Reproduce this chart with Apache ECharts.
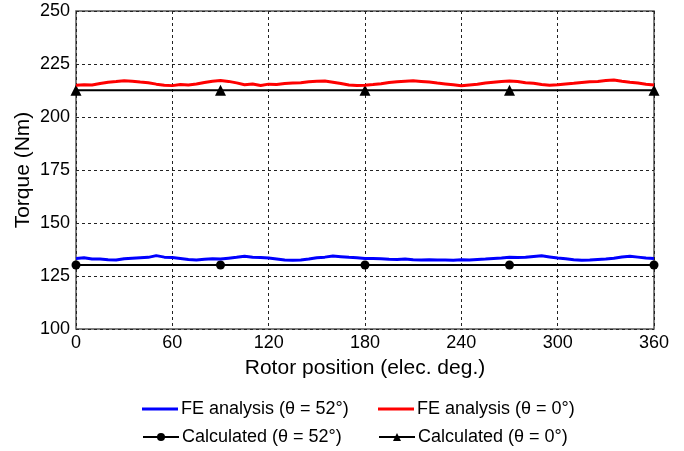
<!DOCTYPE html>
<html>
<head>
<meta charset="utf-8">
<script src="https://cdn.jsdelivr.net/npm/echarts@6/dist/echarts.min.js"></script>
<style>html,body{margin:0;padding:0;background:#fff}#c{width:684px;height:451px}</style>
</head>
<body>
<div id="c"></div>
<script>
var positions = [0,5,10,15,20,25,30,35,40,45,50,55,60,65,70,75,80,85,90,95,100,105,110,115,120,125,130,135,140,145,150,155,160,165,170,175,180,185,190,195,200,205,210,215,220,225,230,235,240,245,250,255,260,265,270,275,280,285,290,295,300,305,310,315,320,325,330,335,340,345,350,355,360];
var feTheta0 = [215.0,215.2,215.1,215.8,216.4,216.7,217.1,216.9,216.5,216.2,215.5,215.0,214.8,215.3,215.1,215.6,216.3,216.9,217.2,216.8,216.1,215.2,215.6,214.9,215.5,215.3,215.8,216.0,216.2,216.6,216.9,217.0,216.4,215.8,215.1,214.9,215.0,215.3,215.7,216.3,216.6,216.9,217.1,216.8,216.5,216.0,215.6,215.2,214.7,215.1,215.4,216.0,216.4,216.8,217.0,216.7,216.2,215.9,215.3,215.0,215.2,215.6,215.9,216.3,216.6,216.8,217.2,217.5,216.9,216.4,216.0,215.5,215.1];
var feTheta52 = [133.2,133.6,133.0,133.0,132.7,132.5,133.1,133.4,133.6,133.8,134.6,133.9,133.7,133.3,132.8,132.6,132.9,133.1,133.0,133.4,133.8,134.3,133.8,133.7,133.5,133.0,132.5,132.4,132.6,133.0,133.6,133.9,134.4,134.1,133.8,133.6,133.3,133.3,133.1,132.9,132.8,133.0,132.7,132.6,132.7,132.5,132.6,132.4,132.7,132.5,132.8,133.0,133.3,133.5,133.8,133.7,133.8,134.2,134.5,134.0,133.5,133.1,132.7,132.4,132.5,132.8,133.0,133.4,134.0,134.3,133.9,133.5,133.3];
var calcPositions = [0,90,180,270,360];
var calcTheta52 = [130.2,130.2,130.2,130.2,130.2];
var calcTheta0 = [212.6,212.6,212.6,212.6,212.6];
var seriesNames = ['FE analysis (θ = 52°)','FE analysis (θ = 0°)','Calculated (θ = 52°)','Calculated (θ = 0°)'];

function pairs(xs, ys){ return xs.map(function(x,i){return [x, ys[i]];}); }

var font = '"Liberation Sans", Arial, sans-serif';
var chart = echarts.init(document.getElementById('c'), null, {renderer:'canvas'});
var legendBase = {orient:'horizontal', itemWidth:36, itemHeight:10, itemGap:4,
  textStyle:{fontFamily:font, fontSize:18, color:'#000', padding:[0,0,0,-2]}, padding:0, selectedMode:false};
chart.setOption({
  animation:false,
  backgroundColor:'#fff',
  grid:{left:76, top:11, width:578, height:318, show:true, borderColor:'#555', borderWidth:1.5, containLabel:false},
  xAxis:{type:'value', min:0, max:360, interval:60,
    name:'Rotor position (elec. deg.)', nameLocation:'middle', nameGap:29, nameMoveOverlap:false,
    nameTextStyle:{fontFamily:font, fontSize:21, color:'#000'},
    axisLine:{show:false}, axisTick:{show:false},
    axisLabel:{fontFamily:font, fontSize:18, color:'#000', margin:5},
    splitLine:{show:true, lineStyle:{color:'#222', width:1, type:[3,3]}}},
  yAxis:{type:'value', min:100, max:250, interval:25,
    name:'Torque (Nm)', nameLocation:'middle', nameGap:42, nameMoveOverlap:false,
    nameTextStyle:{fontFamily:font, fontSize:21, color:'#000'},
    axisLine:{show:false}, axisTick:{show:false},
    axisLabel:{fontFamily:font, fontSize:18, color:'#000', margin:6},
    splitLine:{show:true, lineStyle:{color:'#222', width:1, type:[3,3]}}},
  legend:[
    Object.assign({}, legendBase, {left:142, top:400, itemHeight:3, data:[{name:seriesNames[0], icon:'rect'}]}),
    Object.assign({}, legendBase, {left:378, top:400, itemHeight:3, data:[{name:seriesNames[1], icon:'rect'}]}),
    Object.assign({}, legendBase, {left:142, top:428, data:[seriesNames[2]]}),
    Object.assign({}, legendBase, {left:378, top:428, data:[seriesNames[3]]})
  ],
  series:[
    {name:seriesNames[2], type:'line', data:pairs(calcPositions, calcTheta52), symbol:'circle', symbolSize:9,
      lineStyle:{color:'#000', width:2}, itemStyle:{color:'#000'}, z:2},
    {name:seriesNames[3], type:'line', data:pairs(calcPositions, calcTheta0), symbol:'triangle', symbolSize:11,
      lineStyle:{color:'#000', width:2}, itemStyle:{color:'#000'}, z:2},
    {name:seriesNames[0], type:'line', data:pairs(positions, feTheta52), symbol:'none',
      lineStyle:{color:'#0000ff', width:3}, itemStyle:{color:'#0000ff'}, z:3},
    {name:seriesNames[1], type:'line', data:pairs(positions, feTheta0), symbol:'none',
      lineStyle:{color:'#ff0000', width:3}, itemStyle:{color:'#ff0000'}, z:3}
  ]
});
</script>
</body>
</html>
